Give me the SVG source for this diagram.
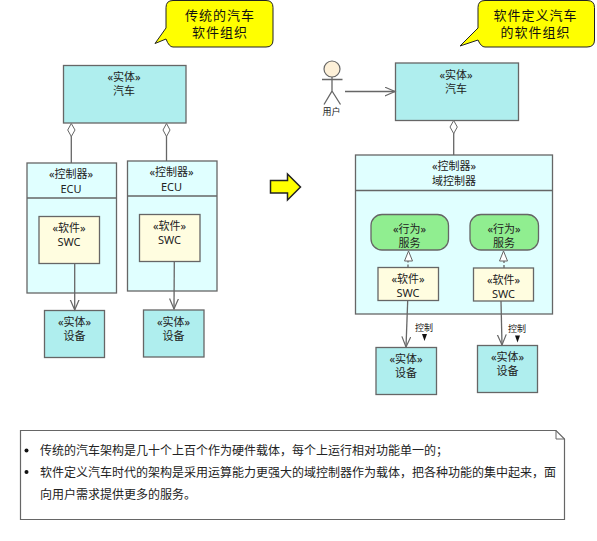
<svg xmlns="http://www.w3.org/2000/svg" width="597" height="541" viewBox="0 0 597 541">
<style>
text{font-family:"Noto Sans","Noto Sans CJK SC",sans-serif;font-size:11px;fill:#222;text-anchor:middle}
.b{stroke:#666;stroke-width:1.3}
.e{fill:#afeeee}.c{fill:#e0ffff}.s{fill:#fffde0}.g{fill:#90ee90}
.l{fill:none;stroke:#666;stroke-width:1.3}
.cal{fill:#ff0;stroke:#222;stroke-width:1}
.ct{font-size:13px;letter-spacing:1px;fill:#111}
.d{fill:#fff;stroke:#666;stroke-width:1}
.n{font-size:12px;text-anchor:start;fill:#222}
.lab{font-size:9px}
</style>
<defs>
<marker id="open" markerWidth="12" markerHeight="12" refX="10.500" refY="5" orient="auto" markerUnits="userSpaceOnUse"><path d="M0 .5L10.500 5L0 9.500" fill="none" stroke="#666" stroke-width="1.2"/></marker>
</defs>
<g id="callout-left"><path class="cal" d="M173 .5H266Q273 .5 273 7.500V40Q273 47 266 47H173Q169 47 166 39L155 43.500L166 28V7.500Q166 .5 173 .5Z"/><text class="ct" x="220" y="20">传统的汽车</text><text class="ct" x="220" y="37">软件组织</text></g>
<g id="callout-right"><path class="cal" d="M485 .5H587Q594.500 .5 594.500 7.500V40Q594.500 47 587 47H485Q481 47 478 40L460 46L478 28V7.500Q478 .5 485 .5Z"/><text class="ct" x="535.500" y="20">软件定义汽车</text><text class="ct" x="535.500" y="37">的软件组织</text></g>
<g id="car-left"><rect class="e b" x="63.500" y="65.500" width="122.500" height="57.500"/><text x="124" y="81">«实体»</text><text x="124" y="95">汽车</text></g>
<g id="ecu-1"><rect class="c b" x="27" y="163" width="89.500" height="130"/><path class="l" d="M27 198H116.500"/><text x="71" y="178">«控制器»</text><text x="71" y="193">ECU</text></g>
<g id="ecu-2"><rect class="c b" x="127.500" y="161" width="89.500" height="130"/><path class="l" d="M127.500 196H217"/><text x="171.500" y="176">«控制器»</text><text x="171.500" y="191">ECU</text></g>
<g id="swc-1"><rect class="s b" x="39" y="216.500" width="60.500" height="47"/><text x="69" y="232">«软件»</text><text x="69" y="246">SWC</text></g>
<g id="swc-2"><rect class="s b" x="139.500" y="214.500" width="60.500" height="47"/><text x="169.500" y="230">«软件»</text><text x="169.500" y="244">SWC</text></g>
<g id="device-1"><rect class="e b" x="44.500" y="310.500" width="60" height="47"/><text x="74.500" y="326">«实体»</text><text x="74.500" y="340">设备</text></g>
<g id="device-2"><rect class="e b" x="143.500" y="310" width="60.500" height="47"/><text x="173.500" y="326">«实体»</text><text x="173.500" y="340">设备</text></g>
<g id="block-arrow"><path d="M270.500 180.500H287.500V174L300.500 187L287.500 200V193H270.500Z" fill="#ff0" stroke="#222" stroke-width="1.500"/></g>
<g id="actor"><circle cx="332" cy="69" r="8" fill="#fdf0d8" stroke="#666" stroke-width="1.2"/><path class="l" d="M322 79.500H342.500M332 77V91L324 104.500M332 91L340.500 104.500"/><text class="lab" x="331.500" y="114.500">用户</text></g>
<g id="car-right"><rect class="e b" x="395.500" y="63" width="123" height="57.500"/><text x="456" y="79">«实体»</text><text x="456" y="93">汽车</text></g>
<g id="domain"><rect class="c b" x="355.500" y="155" width="197" height="159"/><path class="l" d="M355.500 190.500H552.500"/><text x="454" y="170">«控制器»</text><text x="454" y="185">域控制器</text></g>
<g id="service-1"><rect class="g b" x="371" y="214.500" width="77.500" height="35.500" rx="11"/><text x="409.500" y="233">«行为»</text><text x="409.500" y="247">服务</text></g>
<g id="service-2"><rect class="g b" x="470" y="214.500" width="68.500" height="35.500" rx="11"/><text x="504" y="233">«行为»</text><text x="504" y="247">服务</text></g>
<g id="swc-3"><rect class="s b" x="378" y="267.500" width="60.500" height="33"/><text x="408" y="283">«软件»</text><text x="408" y="297">SWC</text></g>
<g id="swc-4"><rect class="s b" x="473.500" y="268" width="60" height="33"/><text x="503.500" y="284">«软件»</text><text x="503.500" y="298">SWC</text></g>
<g id="device-3"><rect class="e b" x="376" y="347.500" width="60.500" height="47"/><text x="406" y="363">«实体»</text><text x="406" y="377">设备</text></g>
<g id="device-4"><rect class="e b" x="477.500" y="345.500" width="60" height="47"/><text x="507.500" y="361">«实体»</text><text x="507.500" y="375">设备</text></g>
<g id="connectors">
<path class="l" d="M71.300 136V163"/><path class="d" d="M71.300 123.500L75 130L71.300 136.500L67.700 130Z"/>
<path class="l" d="M166.500 136V161"/><path class="d" d="M166.500 123.500L170 130L166.500 136.500L163 130Z"/>
<path class="l" d="M74.700 263.500V310" marker-end="url(#open)"/>
<path class="l" d="M174.300 261.500L174 309" marker-end="url(#open)"/>
<path class="l" d="M345 91.500H395" marker-end="url(#open)"/>
<path class="l" d="M453.700 133V155"/><path class="d" d="M453.700 120.500L457.300 127L453.700 133.500L450 127Z"/>
<path class="l" d="M408 267.500V261" stroke-dasharray="3 2"/><path class="d" d="M408.500 251L412.500 261H404.500Z"/>
<path class="l" d="M504 268V261" stroke-dasharray="3 2"/><path class="d" d="M503.500 251L507.500 261H499.500Z"/>
<path class="l" d="M407.700 300.500L406 347" marker-end="url(#open)"/>
<path class="l" d="M501 301L502 345" marker-end="url(#open)"/>
</g>
<g id="label-1"><text class="lab" x="424" y="331">控制</text><path d="M422 334H427L424.500 341Z" fill="#111"/></g>
<g id="label-2"><text class="lab" x="517" y="332">控制</text><path d="M515 335.500H520L517.500 342.500Z" fill="#111"/></g>
<g id="note"><path d="M20.500 430.500H556L564.500 439V519.500H20.500Z" fill="#fff" stroke="#666" stroke-width="1.2"/><path d="M556 430.500V439H564.500" fill="none" stroke="#666"/>
<circle cx="26.500" cy="450.500" r="2" fill="#111"/><circle cx="26.500" cy="472" r="2" fill="#111"/>
<text class="n" x="40" y="455">传统的汽车架构是几十个上百个作为硬件载体，每个上运行相对功能单一的；</text>
<text class="n" x="40" y="477">软件定义汽车时代的架构是采用运算能力更强大的域控制器作为载体，把各种功能的集中起来，面</text>
<text class="n" x="40" y="499">向用户需求提供更多的服务。</text></g>
</svg>
